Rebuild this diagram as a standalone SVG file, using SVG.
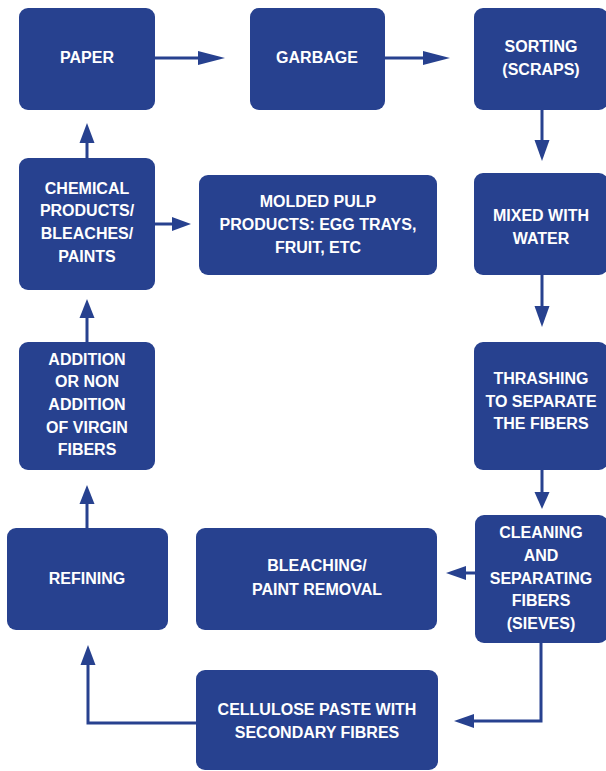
<svg xmlns="http://www.w3.org/2000/svg" width="606" height="771" viewBox="0 0 606 771">
<style>
.box{fill:#27418f}
.t{fill:#fff;font-family:"Liberation Sans",Arial,sans-serif;font-weight:bold;font-size:16px;text-anchor:middle}
.ln{stroke:#27418f;stroke-width:3;fill:none}
.hd{fill:#27418f}
</style>
<rect width="606" height="771" fill="#fff"/>
<g id="connectors">
<line class="ln" x1="155" y1="58" x2="200" y2="58"/><polygon class="hd" points="198,51 225,58 198,65"/>
<line class="ln" x1="385" y1="58" x2="425" y2="58"/><polygon class="hd" points="423,51 450,58 423,65"/>
<line class="ln" x1="542" y1="110" x2="542" y2="142"/><polygon class="hd" points="534.5,140 549.5,140 542,161"/>
<line class="ln" x1="542" y1="275" x2="542" y2="308"/><polygon class="hd" points="534.5,306 549.5,306 542,327"/>
<line class="ln" x1="542" y1="470" x2="542" y2="494"/><polygon class="hd" points="534.5,492 549.5,492 542,509"/>
<line class="ln" x1="475" y1="573" x2="464" y2="573"/><polygon class="hd" points="466,566 466,580 446,573"/>
<polyline class="ln" points="541,643 541,721 472,721"/><polygon class="hd" points="474,714 474,728 454,721"/>
<polyline class="ln" points="196,723 88,723 88,663"/><polygon class="hd" points="80.5,665 95.5,665 88,645"/>
<line class="ln" x1="87" y1="528" x2="87" y2="502"/><polygon class="hd" points="79.5,504 94.5,504 87,485"/>
<line class="ln" x1="87" y1="342" x2="87" y2="316"/><polygon class="hd" points="79.5,318 94.5,318 87,299"/>
<line class="ln" x1="87" y1="158" x2="87" y2="141"/><polygon class="hd" points="79.5,143 94.5,143 87,123"/>
<line class="ln" x1="155" y1="224" x2="174" y2="224"/><polygon class="hd" points="172,217 191,224 172,231"/>
</g>
<g id="paper"><rect class="box" x="19" y="8" width="136" height="102" rx="9"/><text class="t" x="87" y="63">PAPER</text></g>
<g id="garbage"><rect class="box" x="250" y="8" width="135" height="102" rx="9"/><text class="t" x="317" y="63">GARBAGE</text></g>
<g id="sorting"><rect class="box" x="474" y="8" width="134" height="102" rx="9"/><text class="t" x="541" y="52">SORTING</text><text class="t" x="541" y="75">(SCRAPS)</text></g>
<g id="chemical"><rect class="box" x="19" y="158" width="136" height="132" rx="9"/><text class="t" x="87" y="194">CHEMICAL</text><text class="t" x="87" y="216">PRODUCTS/</text><text class="t" x="87" y="239">BLEACHES/</text><text class="t" x="87" y="262">PAINTS</text></g>
<g id="molded"><rect class="box" x="199" y="175" width="238" height="100" rx="9"/><text class="t" x="318" y="207">MOLDED PULP</text><text class="t" x="318" y="230">PRODUCTS: EGG TRAYS,</text><text class="t" x="318" y="253">FRUIT, ETC</text></g>
<g id="mixed"><rect class="box" x="474" y="173" width="134" height="102" rx="9"/><text class="t" x="541" y="221">MIXED WITH</text><text class="t" x="541" y="244">WATER</text></g>
<g id="addition"><rect class="box" x="19" y="342" width="136" height="128" rx="9"/><text class="t" x="87" y="365">ADDITION</text><text class="t" x="87" y="387">OR NON</text><text class="t" x="87" y="410">ADDITION</text><text class="t" x="87" y="433">OF VIRGIN</text><text class="t" x="87" y="455">FIBERS</text></g>
<g id="thrashing"><rect class="box" x="474" y="342" width="134" height="128" rx="9"/><text class="t" x="541" y="384">THRASHING</text><text class="t" x="541" y="407">TO SEPARATE</text><text class="t" x="541" y="429">THE FIBERS</text></g>
<g id="refining"><rect class="box" x="7" y="528" width="161" height="102" rx="9"/><text class="t" x="87" y="584">REFINING</text></g>
<g id="bleaching"><rect class="box" x="196" y="528" width="241" height="102" rx="9"/><text class="t" x="317" y="571">BLEACHING/</text><text class="t" x="317" y="595">PAINT REMOVAL</text></g>
<g id="cleaning"><rect class="box" x="475" y="515" width="133" height="128" rx="9"/><text class="t" x="541" y="538">CLEANING</text><text class="t" x="541" y="561">AND</text><text class="t" x="541" y="584">SEPARATING</text><text class="t" x="541" y="606">FIBERS</text><text class="t" x="541" y="629">(SIEVES)</text></g>
<g id="cellulose"><rect class="box" x="196" y="670" width="242" height="100" rx="9"/><text class="t" x="317" y="715">CELLULOSE PASTE WITH</text><text class="t" x="317" y="738">SECONDARY FIBRES</text></g>
</svg>
